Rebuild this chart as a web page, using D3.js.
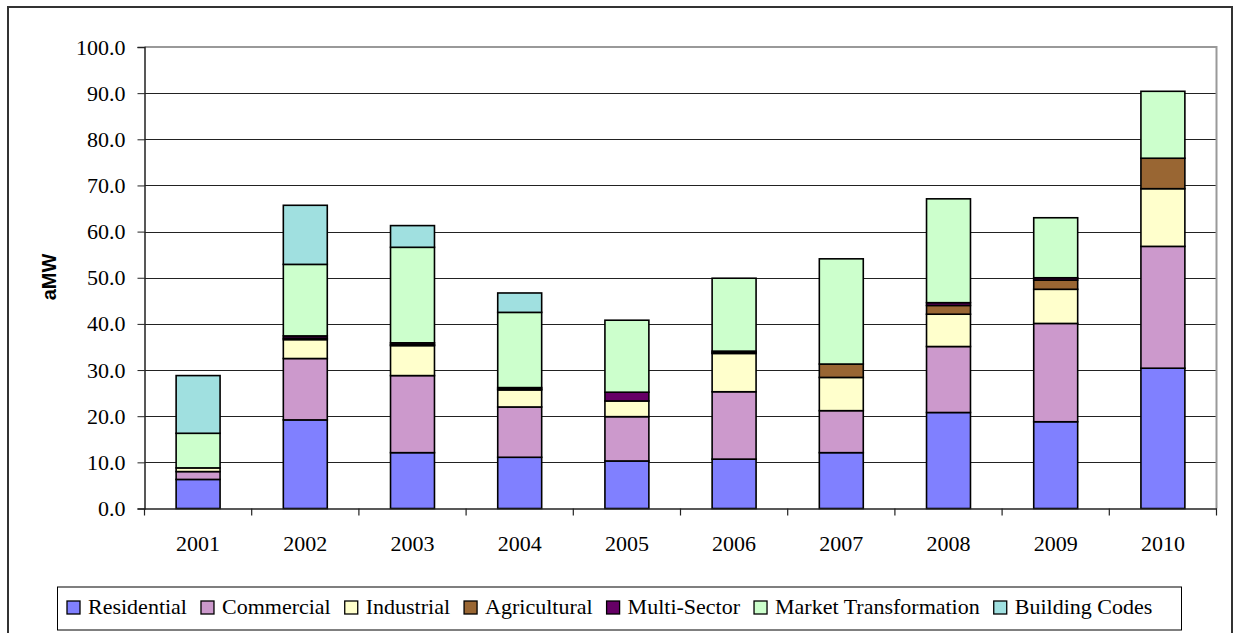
<!DOCTYPE html>
<html>
<head>
<meta charset="utf-8">
<script src="https://cdn.jsdelivr.net/npm/d3@7"></script>
</head>
<body style="margin:0">
<svg id="chart" width="1235" height="633" style="font-family:'Liberation Serif'"></svg>
<script>
const years = ["2001","2002","2003","2004","2005","2006","2007","2008","2009","2010"];
const seriesNames = ["Residential","Commercial","Industrial","Agricultural","Multi-Sector","Market Transformation","Building Codes"];
const residential          = [6.3, 19.2, 12.1, 11.1, 10.3, 10.7, 12.1, 20.8, 18.8, 30.4];
const commercial           = [1.7, 13.3, 16.7, 10.9,  9.6, 14.6,  9.1, 14.3, 21.3, 26.4];
const industrial           = [0.8,  4.1,  6.5,  3.7,  3.4,  8.3,  7.2,  7.0,  7.4, 12.5];
const agricultural         = [0.0,  0.3,  0.2,  0.2,  0.0,  0.2,  2.9,  1.9,  2.0,  6.6];
const multiSector          = [0.0,  0.5,  0.4,  0.3,  1.9,  0.3,  0.0,  0.6,  0.5,  0.0];
const marketTransformation = [7.5, 15.5, 20.7, 16.3, 15.6, 15.8, 22.8, 22.5, 13.0, 14.5];
const buildingCodes        = [12.5, 12.8, 4.7,  4.2,  0.0,  0.0,  0.0,  0.0,  0.0,  0.0];
const yTicks = [0,10,20,30,40,50,60,70,80,90,100];
const colors = ["#8080FF","#CC99CC","#FFFFCC","#996633","#660066","#CCFFCC","#A0E0E0"];

const SERIF = '"Liberation Serif"';
const SANS = '"Liberation Sans"';

const seriesValues = [residential, commercial, industrial, agricultural, multiSector, marketTransformation, buildingCodes];
const table = years.map((y, i) => {
  const row = { year: y };
  seriesNames.forEach((n, s) => row[n] = seriesValues[s][i]);
  return row;
});

const svg = d3.select("#chart");
const plot = { left: 144.5, right: 1216.5, top: 47, bottom: 508.5 };

svg.append("rect").attr("x", 0).attr("y", 0).attr("width", 1235).attr("height", 633).attr("fill", "#fff");
// outer border
svg.append("rect").attr("x", 8).attr("y", 7).attr("width", 1224).attr("height", 640)
  .attr("fill", "none").attr("stroke", "#333").attr("stroke-width", 2);

const x = d3.scaleBand().domain(years).range([plot.left, plot.right])
  .paddingInner(0.59).paddingOuter(0.295);
const y = d3.scaleLinear().domain([0, 100]).range([plot.bottom, plot.top]);

// gridlines
svg.append("g").selectAll("line").data(yTicks.filter(t => t > 0 && t < 100)).join("line")
  .attr("x1", plot.left).attr("x2", plot.right)
  .attr("y1", d => Math.round(y(d)) + 0.5).attr("y2", d => Math.round(y(d)) + 0.5)
  .attr("stroke", "#222").attr("stroke-width", 1);

// plot border (top & right gray)
svg.append("path")
  .attr("d", `M${plot.left},${plot.top} H${plot.right} V${plot.bottom}`)
  .attr("fill", "none").attr("stroke", "#999").attr("stroke-width", 2);

// stacked bars
const stacked = d3.stack().keys(seriesNames)(table);
const g = svg.append("g");
stacked.forEach((layer, si) => {
  g.append("g").selectAll("rect")
    .data(layer.filter(d => d[1] - d[0] > 0))
    .join("rect")
    .attr("x", d => x(d.data.year))
    .attr("width", x.bandwidth())
    .attr("y", d => y(d[1]))
    .attr("height", d => y(d[0]) - y(d[1]))
    .attr("fill", colors[si])
    .attr("stroke", "#000")
    .attr("stroke-width", 1.6);
});

function serifText(sel) {
  sel.attr("font-family", "Liberation Serif").attr("font-size", 22)
     .style("font-family", SERIF).style("font-size", "22px").attr("fill", "#000");
}

// y axis
const yAxis = d3.axisLeft(y).tickValues(yTicks).tickFormat(d3.format(".1f")).tickSize(7).tickPadding(12);
const ya = svg.append("g").attr("transform", `translate(${plot.left},0)`).call(yAxis);
ya.attr("font-family", "Liberation Serif").attr("font-size", 22);
ya.select(".domain").attr("stroke", "#222").attr("stroke-width", 1.5);
ya.selectAll(".tick line").attr("stroke", "#222");
ya.selectAll("text").call(serifText);

// x axis
const xAxis = d3.axisBottom(x).tickSize(0).tickPadding(27);
const xa = svg.append("g").attr("transform", `translate(0,${plot.bottom})`).call(xAxis);
xa.attr("font-family", "Liberation Serif").attr("font-size", 22);
xa.select(".domain").attr("stroke", "#222").attr("stroke-width", 1.5);
xa.selectAll("text").call(serifText);
// category boundary ticks
const bounds = d3.range(years.length + 1).map(i => plot.left + i * x.step());
svg.append("g").selectAll("line").data(bounds).join("line")
  .attr("x1", d => d).attr("x2", d => d)
  .attr("y1", plot.bottom).attr("y2", plot.bottom + 7)
  .attr("stroke", "#222").attr("stroke-width", 1.2);

// y axis title
svg.append("text")
  .attr("transform", `translate(56,277) rotate(-90)`)
  .attr("text-anchor", "middle")
  .attr("font-family", "Liberation Sans").attr("font-weight", "bold").attr("font-size", 20)
  .style("font-family", SANS).style("font-weight", "bold").style("font-size", "20px")
  .text("aMW");

// legend
const lg = svg.append("g");
lg.append("rect").attr("x", 57.5).attr("y", 587).attr("width", 1124).attr("height", 43)
  .attr("fill", "#fff").attr("stroke", "#000").attr("stroke-width", 1);
let cx = 67;
seriesNames.forEach((n, i) => {
  lg.append("rect").attr("x", cx).attr("y", 601).attr("width", 13).attr("height", 13)
    .attr("fill", colors[i]).attr("stroke", "#000").attr("stroke-width", 1.3);
  const t = lg.append("text").attr("x", cx + 21).attr("y", 614).text(n).call(serifText);
  cx += 21 + t.node().getComputedTextLength() + 14;
});
</script>
</body>
</html>
